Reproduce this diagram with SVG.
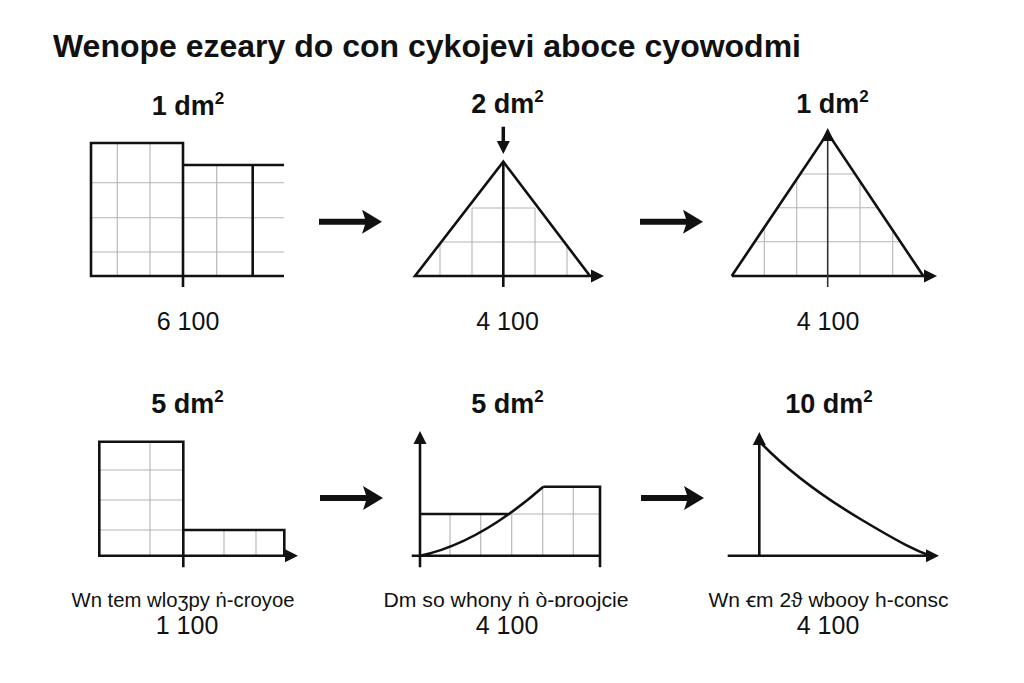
<svg xmlns="http://www.w3.org/2000/svg" width="1024" height="683" viewBox="0 0 1024 683">
<style>
text{font-family:"Liberation Sans",Arial,"DejaVu Sans",sans-serif;fill:#111}
.title{font-size:30.5px;font-weight:bold}
.lbl{font-size:27px;font-weight:bold;text-anchor:middle}
.sup{font-size:17px}
.num{font-size:25px;text-anchor:middle}
.cap{font-size:20.5px;text-anchor:middle}
.ol{fill:none;stroke:#111;stroke-width:2.6;stroke-linejoin:miter}
.thin{fill:none;stroke:#333;stroke-width:1.6}
.grid{fill:none;stroke:#b4b4b4;stroke-width:1.1}
.big{fill:none;stroke:#111;stroke-width:6}
</style>
<defs>
<marker id="ah" viewBox="0 0 10 10" refX="0" refY="5" markerWidth="13" markerHeight="14" markerUnits="userSpaceOnUse" orient="auto"><path d="M0,0 L10,5 L0,10 z" fill="#111"/></marker>
<marker id="bigah" viewBox="0 0 20 24" refX="4" refY="12" markerWidth="20" markerHeight="24" markerUnits="userSpaceOnUse" orient="auto"><path d="M0,0 L20,12 L0,24 L4,12 z" fill="#111"/></marker>
<clipPath id="triR"><polygon points="731.7,276 827.7,133 923.3,276"/></clipPath>
</defs>
<rect width="1024" height="683" fill="#fff"/>
<text class="title" x="53" y="57" textLength="748" lengthAdjust="spacingAndGlyphs">Wenope ezeary do con cykojevi aboce cyowodmi</text>

<g id="panel-top-left">
<text class="lbl" x="188" y="115">1 dm<tspan class="sup" dy="-11">2</tspan></text>
<g class="grid">
<path d="M117.3,143V276M150,143V276M216.7,165V276M91,182.7H284M91,217.7H284M91,252H284"/>
</g>
<path class="ol" d="M183,276V143H91V276H284M183,165H284M252.7,165V276M183,276V287"/>
<text class="num" x="188" y="330">6 100</text>
</g>

<g id="panel-top-mid">
<text class="lbl" x="507.5" y="113">2 dm<tspan class="sup" dy="-11">2</tspan></text>
<g class="grid">
<path d="M472,208H535M441,242H566M440,244V276M472,208V276M535,208V276M567,246V276"/>
</g>
<path class="ol" d="M590,276L503.3,161.7L415,276H590"/>
<line x1="590" y1="276" x2="591" y2="276" stroke="#111" stroke-width="2.6" marker-end="url(#ah)"/>
<path class="ol" d="M503.3,161.7V287"/>
<text class="num" x="507.5" y="330">4 100</text>
</g>

<g id="panel-top-right">
<text class="lbl" x="832.5" y="113">1 dm<tspan class="sup" dy="-11">2</tspan></text>
<g class="grid" clip-path="url(#triR)">
<path d="M731,174H924M731,207.7H924M731,241.7H924M764.3,133V276M796.7,133V276M860,133V276M892.7,133V276"/>
</g>
<path class="ol" d="M731.7,276L827.7,133L923.3,276M731.7,276H923.3"/>
<line x1="923" y1="276" x2="924" y2="276" stroke="#111" stroke-width="2.6" marker-end="url(#ah)"/>
<line class="thin" x1="827.7" y1="287" x2="827.7" y2="141" marker-end="url(#ah)"/>
<text class="num" x="828" y="330">4 100</text>
</g>

<g id="panel-bottom-left">
<text class="lbl" x="187.5" y="413">5 dm<tspan class="sup" dy="-11">2</tspan></text>
<g class="grid">
<path d="M150,441.7V555.7M99.3,470H183.3M99.3,500H183.3M99.3,530H183.3M224,530V555.7M256,530V555.7"/>
</g>
<path class="ol" d="M183.3,555.7V441.7H99.3V555.7H284.3M183.3,530H284.3V555.7M183.3,555.7V567.3"/>
<line x1="284" y1="555.7" x2="285" y2="555.7" stroke="#111" stroke-width="2.6" marker-end="url(#ah)"/>
<text class="cap" x="183" y="606.5" textLength="223" lengthAdjust="spacingAndGlyphs">Wn tem wloʒpy ṅ-croyoe</text>
<text class="num" x="187" y="634">1 100</text>
</g>

<g id="panel-bottom-mid">
<text class="lbl" x="507.5" y="413">5 dm<tspan class="sup" dy="-11">2</tspan></text>
<g class="grid">
<path d="M450,514V555.7M480.7,514V555.7M511.7,514V555.7M542.7,486.7V555.7M573.3,486.7V555.7M510,514H600"/>
</g>
<path class="ol" d="M411.7,555.7H600M600,567.3V486.7H543.3M420,514H510M420,555.7C462,547 503,522 543.3,486.7"/>
<line class="ol" x1="420" y1="567.3" x2="420" y2="444" marker-end="url(#ah)"/>
<text class="cap" x="506" y="606.5" textLength="245" lengthAdjust="spacingAndGlyphs">Dm  so whony ṅ ò-ɒroojcie</text>
<text class="num" x="507" y="634">4 100</text>
</g>

<g id="panel-bottom-right">
<text class="lbl" x="829" y="413">10 dm<tspan class="sup" dy="-11">2</tspan></text>
<path class="ol" d="M760,442C785,468 820,495 862,520S915,550 930,555.7"/>
<line class="ol" x1="759.3" y1="555.7" x2="759.3" y2="445" marker-end="url(#ah)"/>
<line class="ol" x1="727.7" y1="555.7" x2="926" y2="555.7" marker-end="url(#ah)"/>
<text class="cap" x="828.5" y="606.5" textLength="240" lengthAdjust="spacingAndGlyphs">Wn ꞓm 2ϑ wbooy h-consc</text>
<text class="num" x="828" y="634">4 100</text>
</g>

<g id="connectors">
<line class="big" x1="319" y1="221.7" x2="366" y2="221.7" marker-end="url(#bigah)"/>
<line class="big" x1="640" y1="221.7" x2="687" y2="221.7" marker-end="url(#bigah)"/>
<line class="big" x1="320" y1="498" x2="367" y2="498" marker-end="url(#bigah)"/>
<line class="big" x1="641" y1="498" x2="688" y2="498" marker-end="url(#bigah)"/>
<line x1="503.3" y1="126.7" x2="503.3" y2="141" stroke="#111" stroke-width="3.5" marker-end="url(#ah)"/>
</g>
</svg>
